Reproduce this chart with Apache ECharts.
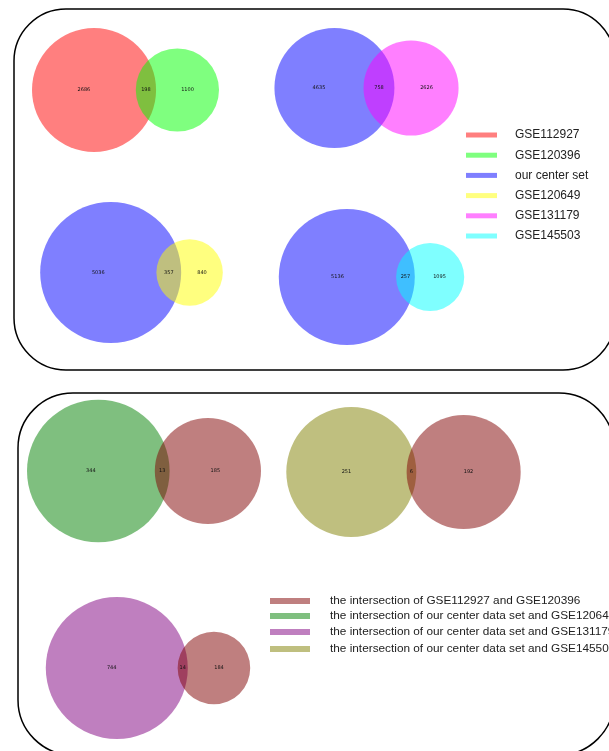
<!DOCTYPE html>
<html>
<head>
<meta charset="utf-8">
<script src="https://cdn.jsdelivr.net/npm/echarts@6/dist/echarts.min.js"></script>
<style>
  html, body { margin: 0; padding: 0; background: #ffffff; }
  #chart { width: 609px; height: 751px; }
</style>
</head>
<body>
<div id="chart"></div>
<script>
// ---- Gene sets ----
const setNames = ['GSE112927', 'GSE120396', 'our center set', 'GSE120649', 'GSE131179', 'GSE145503'];
const setColors = ['rgba(255,0,0,0.5)', 'rgba(0,255,0,0.5)', 'rgba(0,0,255,0.5)',
                   'rgba(255,255,0,0.5)', 'rgba(255,0,255,0.5)', 'rgba(0,255,255,0.5)'];

// Upper diagrams: [left set, right set], [left only, right only], shared
const upperSets = [[0, 1], [2, 4], [2, 3], [2, 5]];
const upperOnly = [[2686, 1100], [4635, 2626], [5036, 840], [5136, 1095]];
const upperShared = [198, 758, 357, 257];

// ---- Intersections of the sets ----
const interNames = [
  'the intersection of GSE112927 and GSE120396',
  'the intersection of our center data set and GSE120649',
  'the intersection of our center data set and GSE131179',
  'the intersection of our center data set and GSE145503'
];
const interColors = ['rgba(128,0,0,0.5)', 'rgba(0,128,0,0.5)', 'rgba(128,0,128,0.5)', 'rgba(128,128,0,0.5)'];

// Lower diagrams
const lowerSets = [[1, 0], [3, 0], [2, 0]];
const lowerOnly = [[344, 185], [251, 192], [744, 184]];
const lowerShared = [13, 6, 14];

// ---- Page layout: box that each diagram is fitted into ----
const boxes = [
  { left: 32,  top: 27,  width: 187, height: 126 },
  { left: 273, top: 28,  width: 187, height: 120 },
  { left: 37,  top: 202, width: 189, height: 141 },
  { left: 277, top: 209, width: 189, height: 136 },
  { left: 27,  top: 399, width: 234, height: 144 },
  { left: 286, top: 407, width: 235, height: 130 },
  { left: 45,  top: 597, width: 206, height: 142 }
];

// Area of the lens shared by two circles
function lensArea(r1, r2, d) {
  if (d >= r1 + r2) return 0;
  if (d <= Math.abs(r1 - r2)) return Math.PI * Math.min(r1, r2) ** 2;
  const a1 = Math.acos((d * d + r1 * r1 - r2 * r2) / (2 * d * r1));
  const a2 = Math.acos((d * d + r2 * r2 - r1 * r1) / (2 * d * r2));
  const k = Math.sqrt((-d + r1 + r2) * (d + r1 - r2) * (d - r1 + r2) * (d + r1 + r2));
  return r1 * r1 * a1 + r2 * r2 * a2 - 0.5 * k;
}

// Area-proportional two-circle layout
function venn2(onlyA, onlyB, shared) {
  const r1 = Math.sqrt((onlyA + shared) / Math.PI);
  const r2 = Math.sqrt((onlyB + shared) / Math.PI);
  let lo = Math.abs(r1 - r2), hi = r1 + r2;
  for (let k = 0; k < 80; k++) {
    const mid = (lo + hi) / 2;
    if (lensArea(r1, r2, mid) > shared) lo = mid; else hi = mid;
  }
  const d = (lo + hi) / 2;
  const circles = [[0, 0, r1], [d, 0, r2]];
  const labels = [
    [(-r1 + d - r2) / 2, 0, onlyA],
    [(d - r2 + r1) / 2, 0, shared],
    [(r1 + d + r2) / 2, 0, onlyB]
  ];
  return { circles, labels, xmin: -r1, xmax: d + r2, ymax: Math.max(r1, r2) };
}

const panels = [];
upperSets.forEach((pair, i) => panels.push({
  v: venn2(upperOnly[i][0], upperOnly[i][1], upperShared[i]),
  colors: [setColors[pair[0]], setColors[pair[1]]]
}));
lowerSets.forEach((pair, i) => panels.push({
  v: venn2(lowerOnly[i][0], lowerOnly[i][1], lowerShared[i]),
  colors: [interColors[pair[0]], interColors[pair[1]]]
}));

const grids = [], xAxes = [], yAxes = [], series = [];
panels.forEach((p, i) => {
  const b = boxes[i], v = p.v;
  const bw = v.xmax - v.xmin, bh = 2 * v.ymax;
  const s = Math.min(b.width / bw, b.height / bh);   // equal aspect
  const xc = (v.xmin + v.xmax) / 2;
  const hx = b.width / (2 * s), hy = b.height / (2 * s);
  grids.push({ left: b.left, top: b.top, width: b.width, height: b.height, containLabel: false });
  xAxes.push({ gridIndex: i, type: 'value', min: xc - hx, max: xc + hx, show: false });
  yAxes.push({ gridIndex: i, type: 'value', min: -hy, max: hy, show: false });

  const cols = p.colors;
  series.push({
    type: 'custom', xAxisIndex: i, yAxisIndex: i, clip: false, silent: true,
    data: v.circles,
    renderItem: function (params, api) {
      const c = api.coord([api.value(0), api.value(1)]);
      const r = api.size([api.value(2), 0])[0];
      return { type: 'circle', shape: { cx: c[0], cy: c[1], r: r },
               style: { fill: cols[params.dataIndex] } };
    }
  });
  series.push({
    type: 'custom', xAxisIndex: i, yAxisIndex: i, clip: false, silent: true, z: 5,
    data: v.labels,
    renderItem: function (params, api) {
      const c = api.coord([api.value(0), api.value(1)]);
      return { type: 'text', x: c[0], y: c[1],
               style: { text: String(api.value(2)), fill: '#111', fontSize: 5,
                        fontFamily: 'DejaVu Sans', align: 'center', verticalAlign: 'middle' } };
    }
  });
});

// Frames and legends
const graphic = [
  { type: 'rect', z: -1, shape: { x: 14, y: 9, width: 601, height: 361, r: 52 },
    style: { fill: 'none', stroke: '#000', lineWidth: 1.5 } },
  { type: 'rect', z: -1, shape: { x: 18, y: 393, width: 596, height: 362, r: 55 },
    style: { fill: 'none', stroke: '#000', lineWidth: 1.5 } }
];
setNames.forEach((name, i) => {
  const y = 135 + 20.2 * i;
  graphic.push({ type: 'rect', shape: { x: 466, y: y - 2.5, width: 31, height: 5 },
                 style: { fill: setColors[i] } });
  graphic.push({ type: 'text', x: 515, y: y,
                 style: { text: name, fill: '#222', fontSize: 12, fontFamily: 'Liberation Sans',
                          verticalAlign: 'middle' } });
});
const interRowY = [601, 616, 632, 649];
interNames.forEach((name, i) => {
  const y = interRowY[i];
  graphic.push({ type: 'rect', shape: { x: 270, y: y - 3, width: 40, height: 6 },
                 style: { fill: interColors[i] } });
  graphic.push({ type: 'text', x: 330, y: y,
                 style: { text: name, fill: '#222', fontSize: 11.8, fontFamily: 'Liberation Sans',
                          verticalAlign: 'middle' } });
});

const chart = echarts.init(document.getElementById('chart'), null, { renderer: 'canvas' });
chart.setOption({
  animation: false,
  backgroundColor: '#ffffff',
  grid: grids,
  xAxis: xAxes,
  yAxis: yAxes,
  series: series,
  graphic: graphic
});
</script>
</body>
</html>
